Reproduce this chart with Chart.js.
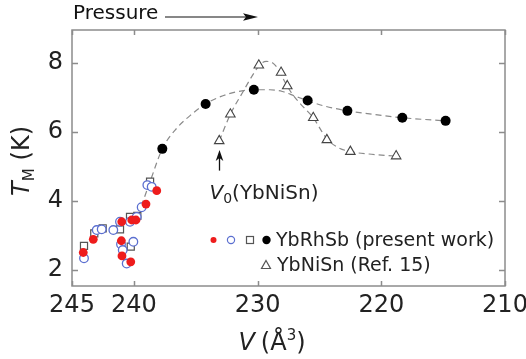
<!DOCTYPE html>
<html><head><meta charset="utf-8">
<script src="https://cdn.jsdelivr.net/npm/chart.js@4/dist/chart.umd.min.js"></script>
<style>html,body{margin:0;padding:0;background:#fff}canvas{display:block}</style>
</head><body>
<canvas id="c" width="526" height="359"></canvas>
<script>
// ---- tick labels ----
const xTicks = [245, 240, 230, 220, 210];
const yTicks = [2, 4, 6, 8];

// ---- YbRhSb (present work) ----
const redV = [244.09, 243.28, 240.98, 241.01, 240.96, 240.25, 240.17, 239.83, 239.02, 238.15];
const redT = [2.51, 2.89, 3.40, 2.85, 2.41, 2.24, 3.45, 3.45, 3.91, 4.30];

const blueV = [244.03, 243.0, 242.6, 241.66, 241.12, 241.04, 240.9, 240.58, 240.04, 240.31, 239.77, 239.37, 238.91, 238.56];
const blueT = [2.34, 3.16, 3.18, 3.16, 3.40, 2.75, 2.58, 2.19, 2.82, 3.40, 3.54, 3.82, 4.46, 4.41];

const squareV = [244.03, 243.2, 242.52, 241.12, 240.25, 240.31, 239.72, 238.69];
const squareT = [2.70, 3.06, 3.21, 3.18, 2.68, 3.54, 3.57, 4.56];

const blackV = [237.7, 234.2, 230.3, 225.95, 222.74, 218.3, 214.8];
const blackT = [5.51, 6.81, 7.22, 6.91, 6.61, 6.41, 6.32];

// ---- YbNiSn (Ref. 15) ----
const triV = [233.1, 232.2, 229.9, 228.1, 227.6, 225.5, 224.4, 222.5, 218.8];
const triT = [5.74, 6.51, 7.93, 7.72, 7.33, 6.41, 5.77, 5.43, 5.30];

// ---- dashed guide curves ----
const curve1V = [239.4, 238.7, 237.7, 236.5, 235.3, 234.2, 233, 231.7, 230.3, 229, 228, 227, 226, 224.5, 222.7, 220.5, 218.3, 214.8];
const curve1T = [3.85, 4.55, 5.51, 6.12, 6.52, 6.81, 7.02, 7.16, 7.22, 7.22, 7.17, 7.04, 6.91, 6.74, 6.61, 6.5, 6.41, 6.32];
const curve2V = [233.1, 232.2, 231.2, 230.3, 229.8, 229.3, 228.8, 228.3, 227.8, 227.2, 226.5, 225.5, 224.4, 223.5, 222.5, 221, 218.8];
const curve2T = [5.74, 6.51, 7.15, 7.7, 7.95, 8.04, 8.0, 7.8, 7.45, 7.1, 6.8, 6.41, 5.8, 5.55, 5.43, 5.36, 5.30];

// annotation value
const v0Value = 233.1;

const pts = (xs, ys) => xs.map((x, i) => ({x: x, y: ys[i]}));
const FONT = "'DejaVu Sans'";
const AX = '#8c8c8c';

function richText(ctx, segs, cx, cy) {
  let w = 0;
  segs.forEach(s => { ctx.font = s.font; s.w = ctx.measureText(s.t).width; w += s.w + (s.gap || 0); });
  let x = cx - w / 2;
  ctx.textBaseline = 'alphabetic';
  ctx.textAlign = 'left';
  segs.forEach(s => { ctx.font = s.font; ctx.fillText(s.t, x, cy + (s.dy || 0)); x += s.w + (s.gap || 0); });
}

const decor = {
  id: 'decor',
  beforeDatasetsDraw(chart) {
    const {ctx, chartArea: a, scales: {x, y}} = chart;
    ctx.save();
    ctx.strokeStyle = AX;
    ctx.lineWidth = 1.5;
    ctx.strokeRect(a.left, a.top, a.right - a.left, a.bottom - a.top);
    ctx.beginPath();
    xTicks.forEach(v => {
      const px = Math.round(x.getPixelForValue(v)) + 0.5;
      ctx.moveTo(px, a.bottom); ctx.lineTo(px, a.bottom - 5);
      ctx.moveTo(px, a.top); ctx.lineTo(px, a.top + 5);
    });
    yTicks.forEach(v => {
      const py = Math.round(y.getPixelForValue(v)) + 0.5;
      ctx.moveTo(a.left, py); ctx.lineTo(a.left + 6, py);
      ctx.moveTo(a.right, py); ctx.lineTo(a.right - 6, py);
    });
    ctx.stroke();
    ctx.restore();
  },
  afterDraw(chart) {
    const {ctx, chartArea: a, scales: {x, y}} = chart;
    ctx.save();
    ctx.fillStyle = '#111';
    ctx.strokeStyle = '#111';
    // Pressure arrow
    ctx.font = '20px ' + FONT;
    ctx.textBaseline = 'middle';
    ctx.textAlign = 'left';
    ctx.fillText('Pressure', 73, 14);
    ctx.lineWidth = 1.2;
    ctx.beginPath(); ctx.moveTo(165, 17); ctx.lineTo(246, 17); ctx.stroke();
    ctx.beginPath(); ctx.moveTo(258, 17); ctx.lineTo(243, 13.3); ctx.lineTo(246, 17); ctx.lineTo(243, 20.7); ctx.closePath(); ctx.fill();

    // V0 arrow
    const ax = Math.round(x.getPixelForValue(v0Value)) + 0.5;
    const tip = y.getPixelForValue(5.48);
    ctx.lineWidth = 1.3;
    ctx.beginPath(); ctx.moveTo(ax, y.getPixelForValue(4.88)); ctx.lineTo(ax, tip + 6); ctx.stroke();
    ctx.beginPath(); ctx.moveTo(ax, tip); ctx.lineTo(ax - 3.8, tip + 11); ctx.lineTo(ax, tip + 8); ctx.lineTo(ax + 3.8, tip + 11); ctx.closePath(); ctx.fill();
    ctx.fillStyle = '#222';
    richText(ctx, [
      {t: 'V', font: 'italic 20px ' + FONT},
      {t: '0', font: '14px ' + FONT, dy: 4},
      {t: '(YbNiSn)', font: '20px ' + FONT}
    ], 264, 199);

    // legend
    const r1 = 240, r2 = 265;
    ctx.fillStyle = '#ee1c1c';
    ctx.beginPath(); ctx.arc(213.5, r1, 3, 0, Math.PI * 2); ctx.fill();
    ctx.strokeStyle = '#5b6fd0'; ctx.lineWidth = 1.2;
    ctx.beginPath(); ctx.arc(231, r1, 3.6, 0, Math.PI * 2); ctx.stroke();
    ctx.strokeStyle = '#555';
    ctx.strokeRect(246.5, r1 - 3.5, 7, 7);
    ctx.fillStyle = '#000';
    ctx.beginPath(); ctx.arc(266.5, r1, 4.2, 0, Math.PI * 2); ctx.fill();
    ctx.strokeStyle = '#555';
    ctx.beginPath(); ctx.moveTo(266, r2 - 4.5); ctx.lineTo(270.5, r2 + 3.5); ctx.lineTo(261.5, r2 + 3.5); ctx.closePath(); ctx.stroke();
    ctx.fillStyle = '#222';
    ctx.font = '19px ' + FONT;
    ctx.textBaseline = 'middle';
    ctx.textAlign = 'left';
    ctx.fillText('YbRhSb (present work)', 276, r1 + 1);
    ctx.fillText('YbNiSn (Ref. 15)', 277, r2 + 1);

    // axis titles
    richText(ctx, [
      {t: 'V', font: 'italic 24px ' + FONT, gap: 6},
      {t: '(Å', font: '24px ' + FONT},
      {t: '3', font: '15px ' + FONT, dy: -10},
      {t: ')', font: '24px ' + FONT}
    ], 272, 350);
    ctx.save();
    ctx.translate(29, 161);
    ctx.rotate(-Math.PI / 2);
    richText(ctx, [
      {t: 'T', font: 'italic 24px ' + FONT},
      {t: 'M', font: '15px ' + FONT, dy: 5, gap: 8},
      {t: '(K)', font: '24px ' + FONT}
    ], 0, 0);
    ctx.restore();
    ctx.restore();
  }
};

new Chart(document.getElementById('c'), {
  type: 'scatter',
  data: {
    datasets: [
      {label: 'red', data: pts(redV, redT), pointStyle: 'circle', pointRadius: 4.4, backgroundColor: '#ee1c1c', borderColor: '#ee1c1c', borderWidth: 0, order: 1},
      {label: 'blue', data: pts(blueV, blueT), pointStyle: 'circle', pointRadius: 4.3, backgroundColor: 'rgba(255,255,255,1)', borderColor: '#5b6fd0', borderWidth: 1.3, order: 2},
      {label: 'square', data: pts(squareV, squareT), pointStyle: 'rect', pointRadius: 5, backgroundColor: '#fff', borderColor: '#555', borderWidth: 1.2, order: 3},
      {label: 'black', data: pts(blackV, blackT), pointStyle: 'circle', pointRadius: 5, backgroundColor: '#000', borderColor: '#000', borderWidth: 0, order: 1},
      {label: 'tri', data: pts(triV, triT), pointStyle: 'triangle', pointRadius: 5.5, backgroundColor: '#fff', borderColor: '#444', borderWidth: 1.1, order: 1},
      {type: 'line', label: 'c1', data: pts(curve1V, curve1T), showLine: true, pointRadius: 0, borderColor: '#8a8a8a', borderWidth: 1.2, borderDash: [6, 4], cubicInterpolationMode: 'monotone', fill: false, order: 5},
      {type: 'line', label: 'c2', data: pts(curve2V, curve2T), showLine: true, pointRadius: 0, borderColor: '#8a8a8a', borderWidth: 1.2, borderDash: [6, 4], cubicInterpolationMode: 'monotone', fill: false, order: 5}
    ]
  },
  options: {
    responsive: false,
    animation: false,
    devicePixelRatio: 1,
    layout: {padding: {left: 0, top: 30, right: 21, bottom: 0}},
    plugins: {legend: {display: false}, tooltip: {enabled: false}},
    scales: {
      x: {
        type: 'linear', reverse: true, min: 210, max: 245,
        afterBuildTicks: s => { s.ticks = xTicks.map(v => ({value: v})); },
        afterFit: s => { s.height = 73; s.paddingLeft = 0; s.paddingRight = 0; },
        grid: {display: false, drawTicks: false},
        border: {display: false},
        ticks: {font: {family: 'DejaVu Sans', size: 24}, color: '#222', padding: 5, maxRotation: 0, autoSkip: false, callback: v => String(v)}
      },
      y: {
        type: 'linear', min: 1.54, max: 8.95,
        afterBuildTicks: s => { s.ticks = yTicks.map(v => ({value: v})); },
        afterFit: s => { s.width = 72; s.paddingTop = 0; s.paddingBottom = 0; },
        grid: {display: false, drawTicks: false},
        border: {display: false},
        ticks: {font: {family: 'DejaVu Sans', size: 24}, color: '#222', padding: 9, callback: v => String(v)}
      }
    }
  },
  plugins: [decor]
});
</script>
</body></html>
